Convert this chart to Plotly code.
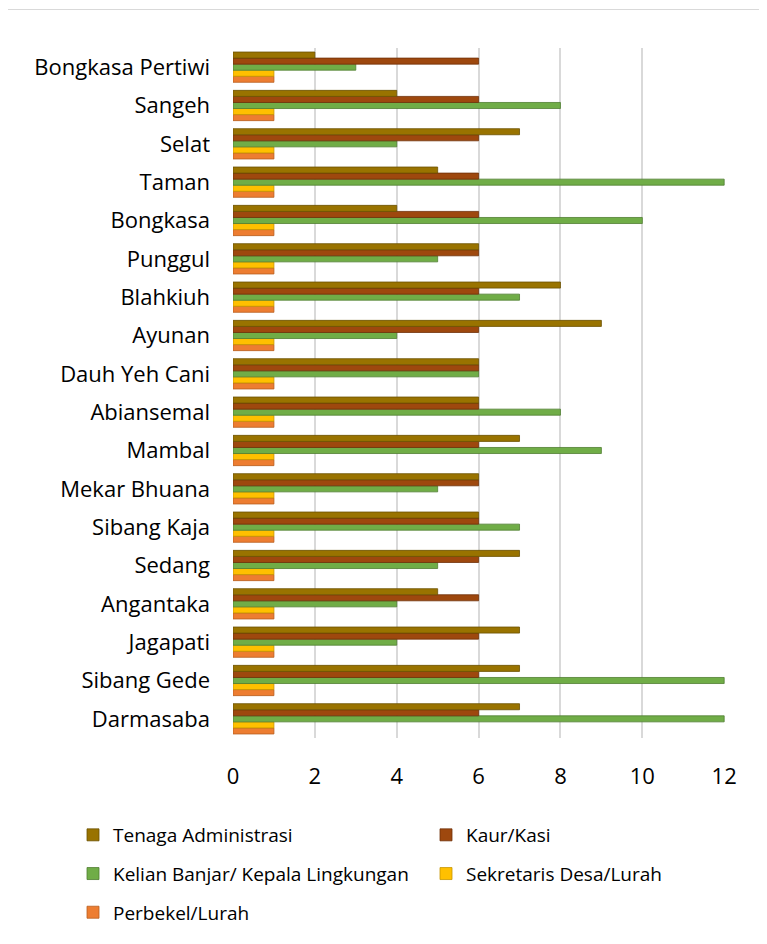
import plotly.graph_objects as go

# Categories, top-to-bottom as shown in the chart
categories = ["Bongkasa Pertiwi", "Sangeh", "Selat", "Taman", "Bongkasa", "Punggul",
              "Blahkiuh", "Ayunan", "Dauh Yeh Cani", "Abiansemal", "Mambal",
              "Mekar Bhuana", "Sibang Kaja", "Sedang", "Angantaka", "Jagapati",
              "Sibang Gede", "Darmasaba"]

tenaga_administrasi = [2, 4, 7, 5, 4, 6, 8, 9, 6, 6, 7, 6, 6, 7, 5, 7, 7, 7]
kaur_kasi = [6, 6, 6, 6, 6, 6, 6, 6, 6, 6, 6, 6, 6, 6, 6, 6, 6, 6]
kelian_banjar = [3, 8, 4, 12, 10, 5, 7, 4, 6, 8, 9, 5, 7, 5, 4, 4, 12, 12]
sekretaris = [1] * 18
perbekel = [1] * 18

x_ticks = [0, 2, 4, 6, 8, 10, 12]

# Series (plotted bottom-of-group first); last value = legend rank
series = [
    ("Perbekel/Lurah", perbekel, "#ED7D31", "#b85e1f", 5),
    ("Sekretaris Desa/Lurah", sekretaris, "#FFC000", "#c79500", 4),
    ("Kelian Banjar/ Kepala Lingkungan", kelian_banjar, "#70AD47", "#4f7d31", 3),
    ("Kaur/Kasi", kaur_kasi, "#9E480E", "#6e3009", 2),
    ("Tenaga Administrasi", tenaga_administrasi, "#997300", "#6b5000", 1),
]

cats_plot = categories[::-1]

fig = go.Figure()
for i, (name, vals, col, edge, rank) in enumerate(series):
    fig.add_trace(go.Bar(
        y=cats_plot, x=vals[::-1], name=name, orientation="h",
        legendgroup=f"g{rank}", legendrank=rank,
        marker=dict(color=col, line=dict(color=edge, width=0.8)),
    ))

# page has an 8px body margin; figure coords = page coords - 8
W, H = 800, 936
L, T, B = 225, 40, 197
pw = 492
R = W - L - pw
ph = H - T - B

fig.update_layout(
    width=W, height=H,
    margin=dict(l=L, r=R, t=T, b=B),
    paper_bgcolor="white", plot_bgcolor="white",
    barmode="group", bargap=0.21, bargroupgap=0,
    font=dict(family="Open Sans", color="#000000"),
    xaxis=dict(range=[0, 12.02], tickvals=x_ticks, showgrid=True,
               gridcolor="#d9d9d9", gridwidth=2, zeroline=False,
               showline=False, tickfont=dict(size=22), ticklabelstandoff=23),
    yaxis=dict(categoryorder="array", categoryarray=cats_plot,
               showgrid=False, showline=False, tickfont=dict(size=22),
               ticklabelstandoff=22),
    legend=dict(orientation="h", traceorder="grouped",
                tracegroupgap=11,
                x=(65 - L) / pw, xanchor="left",
                y=(H - B - 818) / ph, yanchor="top",
                font=dict(size=19), entrywidth=308, entrywidthmode="pixels"),
    showlegend=True,
    shapes=[dict(type="rect", xref="paper", yref="paper",
                 x0=(-3 - L) / pw, x1=(790 - L) / pw,
                 y0=(H - B - 960) / ph, y1=(H - B - 1) / ph,
                 line=dict(color="#d9d9d9", width=1), fillcolor="rgba(0,0,0,0)",
                 layer="below")],
)

fig.write_html("out.html")
